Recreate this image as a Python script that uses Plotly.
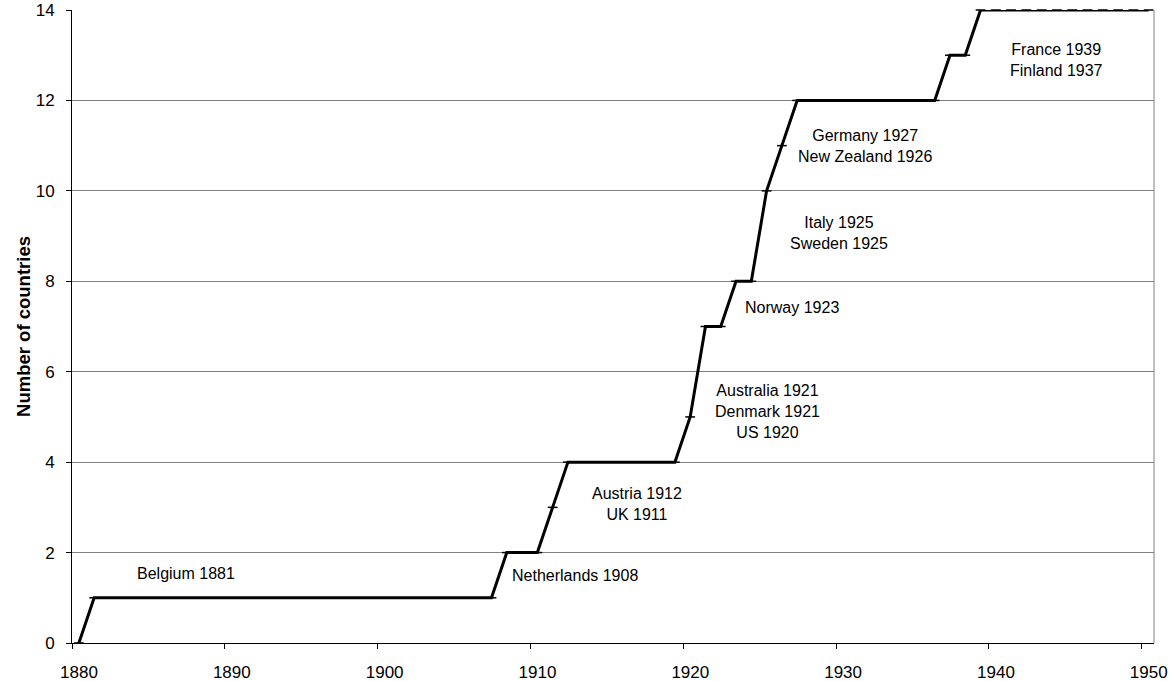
import plotly.graph_objects as go

# Annual data: number of countries
years = list(range(1880, 1951))
counts = ([0] + [1] * 27 + [2, 2, 2, 3] + [4] * 8 + [5, 7, 7, 8, 8, 10, 11]
          + [12] * 10 + [13, 13] + [14] * 12)

labels = ["Belgium 1881", "Netherlands 1908", "Austria 1912<br>UK 1911",
          "Australia 1921<br>Denmark 1921<br>US 1920", "Norway 1923",
          "Italy 1925<br>Sweden 1925", "Germany 1927<br>New Zealand 1926",
          "France 1939<br>Finland 1937"]
label_x = [1887.46, 1912.9, 1917.0, 1925.5, 1927.1, 1930.2, 1931.9, 1944.4]
label_y = [1.54, 1.5, 3.07, 5.13, 7.41, 9.07, 11.0, 12.9]

x_ticks = [1880, 1890, 1900, 1910, 1920, 1930, 1940, 1950]
y_ticks = [0, 2, 4, 6, 8, 10, 12, 14]

xs = [y + 0.45 for y in years]

FONT = "Liberation Sans, Arial, sans-serif"

fig = go.Figure()
fig.add_trace(go.Scatter(
    x=xs, y=counts, mode="lines+markers",
    line=dict(color="black", width=3),
    marker=dict(symbol="line-ew", size=7, line=dict(color="black", width=1.5)),
    showlegend=False, hoverinfo="skip", cliponaxis=False,
))

for t, x, y in zip(labels, label_x, label_y):
    fig.add_annotation(x=x, y=y, text=t, showarrow=False,
                       font=dict(family=FONT, size=16, color="black"),
                       align="center")

fig.add_shape(type="line", xref="paper", yref="paper", x0=1, x1=1, y0=0, y1=1,
              line=dict(color="#808080", width=1))

fig.update_layout(
    width=1171, height=681,
    margin=dict(l=72, r=17, t=10, b=38),
    paper_bgcolor="white", plot_bgcolor="white",
    font=dict(family=FONT, size=17, color="black"),
    xaxis=dict(range=[1880, 1950.8], tickvals=x_ticks, showgrid=False,
               showline=True, linecolor="black", linewidth=1,
               ticks="outside", ticklen=5, tickcolor="black", zeroline=False,
               tickfont=dict(size=17), automargin=False,
               ticklabelstandoff=9, ticklabelshift=7),
    yaxis=dict(range=[0, 14], tickvals=y_ticks, showgrid=True,
               gridcolor="#808080", gridwidth=1,
               showline=True, linecolor="black", linewidth=1,
               ticks="outside", ticklen=5, tickcolor="black", zeroline=False,
               tickfont=dict(size=17), automargin=False, ticklabelstandoff=8,
               title=dict(text="<b>Number of countries</b>", font=dict(size=18.5), standoff=0)),
)

fig.write_html("out.html", post_script="document.body.style.margin='0';",
               config={"displayModeBar": False})
